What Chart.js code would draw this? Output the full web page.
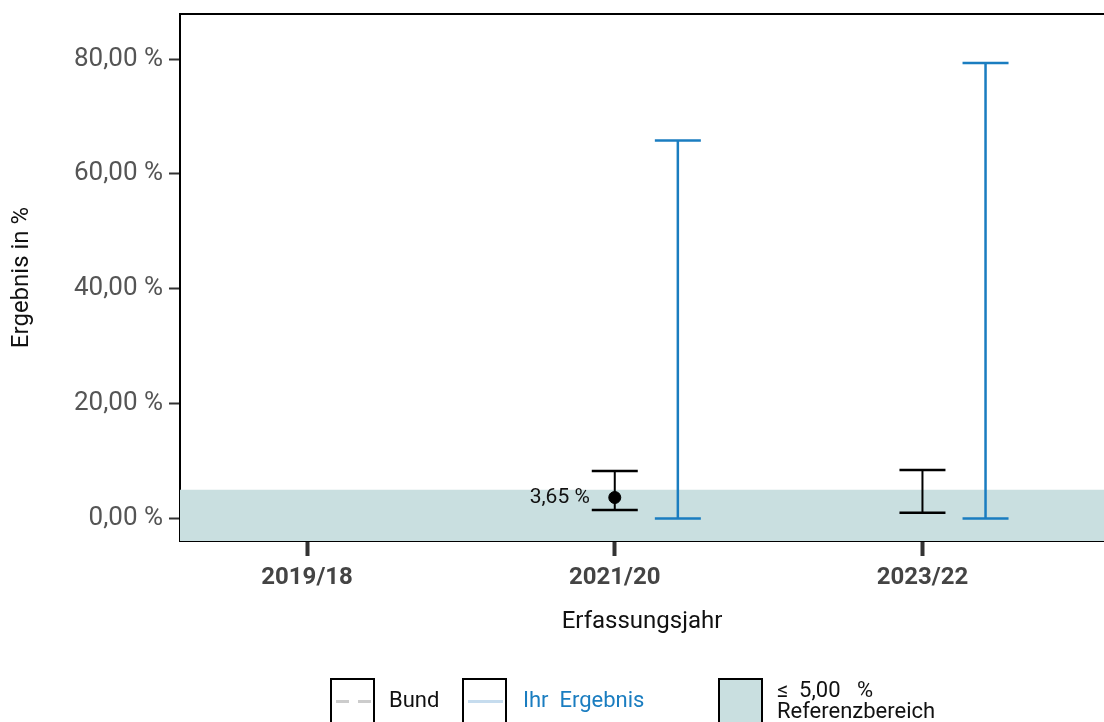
<!DOCTYPE html>
<html lang="de">
<head>
<meta charset="utf-8">
<title>Ergebnis in %</title>
<script src="https://cdn.jsdelivr.net/npm/chart.js@4"></script>
<style>
    body { margin: 0; background: #fff; font-family: Roboto, sans-serif; }
    #wrap { position: relative; width: 1104px; height: 722px; overflow: hidden; }
    .legend-box { position: absolute; top: 678px; width: 41px; height: 46px; border: 2px solid #000; box-sizing: content-box; }
    .legend-line { position: absolute; left: 4px; top: 20px; width: 35px; height: 3px; }
    .legend-text { position: absolute; font-size: 22px; color: #111; line-height: 21px; white-space: nowrap; }
</style>
</head>
<body>
<div id="wrap">
    <canvas id="chart" width="1104" height="722"></canvas>

    <!-- Legend -->
    <div class="legend-box" style="left:330px;">
        <div class="legend-line" style="background: repeating-linear-gradient(90deg, #cccccc 0 13px, transparent 13px 22px);"></div>
    </div>
    <div class="legend-text" style="left:389px; top:689px;">Bund</div>
    <div class="legend-box" style="left:462px;">
        <div class="legend-line" style="background:#c6dcee;"></div>
    </div>
    <div class="legend-text" style="left:523px; top:689px; color:#1a7dc0;">Ihr&nbsp; Ergebnis</div>
    <div class="legend-box" style="left:718px; background:#c9dfe0;"></div>
    <div class="legend-text" style="left:777px; top:679px;">≤&nbsp; 5,00&nbsp;&nbsp; %<br>Referenzbereich</div>
</div>

<script>
// Data
const years = ['2019/18', '2021/20', '2023/22'];
const bundWert = [null, 3.65, null];
const bundUnten = [null, 1.48, 1.0];
const bundOben = [null, 8.28, 8.45];
const ihrUnten = [null, 0, 0];
const ihrOben = [null, 65.8, 79.3];
const referenzGrenze = 5;
const yTicks = [0, 20, 40, 60, 80];

const X_MIN = -0.413, X_MAX = 2.59;
const Y_MIN = -3.92, Y_MAX = 87.84;
const IHR_OFFSET = 0.205;

const bundFarbe = '#000000';
const ihrFarbe = '#1a7dc0';
const refFarbe = '#c9dfe0';

// build error bar segments (gap between categories)
function errorBarPoints(lower, upper, offset) {
    const pts = [];
    years.forEach((y, i) => {
        if (lower[i] == null || upper[i] == null) return;
        pts.push({ x: i + offset, y: lower[i] });
        pts.push({ x: i + offset, y: upper[i] });
        pts.push({ x: i + offset + 0.01, y: null });
    });
    return pts;
}

function formatProzent(v) {
    return v.toFixed(2).replace('.', ',') + ' %';
}

// no extra padding around the axes, the plot box is fixed
function noPadding(scale) {
    scale.paddingLeft = 0;
    scale.paddingRight = 0;
    scale.paddingTop = 0;
    scale.paddingBottom = 0;
}

Chart.defaults.font.family = 'Roboto, sans-serif';

// Value label next to the Bund point
const wertLabel = {
    id: 'wertLabel',
    afterDatasetsDraw(chart) {
        const ctx = chart.ctx;
        const xs = chart.scales.x, ys = chart.scales.y;
        ctx.save();
        ctx.font = '21px Roboto, sans-serif';
        ctx.fillStyle = '#111';
        ctx.textAlign = 'right';
        ctx.textBaseline = 'middle';
        bundWert.forEach((v, i) => {
            if (v == null) return;
            ctx.fillText(formatProzent(v), xs.getPixelForValue(i) - 25, ys.getPixelForValue(v));
        });
        ctx.restore();
    }
};

const ctx = document.getElementById('chart').getContext('2d');
new Chart(ctx, {
    type: 'line',
    data: {
        datasets: [
            {
                label: 'Referenzbereich',
                data: [{ x: X_MIN, y: referenzGrenze }, { x: X_MAX, y: referenzGrenze }],
                borderWidth: 0,
                pointRadius: 0,
                backgroundColor: refFarbe,
                fill: 'start',
                order: 3
            },
            {
                label: 'Ihr Ergebnis',
                data: errorBarPoints(ihrUnten, ihrOben, IHR_OFFSET),
                borderColor: ihrFarbe,
                borderWidth: 2.5,
                pointStyle: 'line',
                pointRadius: 23,
                pointBorderColor: ihrFarbe,
                pointBorderWidth: 2.5,
                spanGaps: false,
                order: 2
            },
            {
                label: 'Bund',
                data: errorBarPoints(bundUnten, bundOben, 0),
                borderColor: bundFarbe,
                borderWidth: 2,
                pointStyle: 'line',
                pointRadius: 23,
                pointBorderColor: bundFarbe,
                pointBorderWidth: 2.5,
                spanGaps: false,
                order: 1
            },
            {
                label: 'Bund Wert',
                data: bundWert.map((v, i) => ({ x: i, y: v })),
                showLine: false,
                pointStyle: 'circle',
                pointRadius: 6,
                backgroundColor: bundFarbe,
                borderColor: bundFarbe,
                order: 0
            }
        ]
    },
    options: {
        responsive: false,
        animation: false,
        layout: { autoPadding: false, padding: { left: 0, right: 0, top: 0, bottom: 81 } },
        plugins: {
            legend: { display: false },
            tooltip: { enabled: false }
        },
        scales: {
            x: {
                type: 'linear',
                position: 'bottom',
                min: X_MIN,
                max: X_MAX,
                afterBuildTicks: scale => { scale.ticks = years.map((y, i) => ({ value: i })); },
                afterFit: scale => { scale.height = 100; noPadding(scale); },
                ticks: {
                    callback: v => years[v],
                    color: '#444',
                    font: { size: 24, weight: 'bold' },
                    padding: 8,
                    maxRotation: 0
                },
                grid: { drawOnChartArea: false, drawTicks: true, tickLength: 15, tickWidth: 4, tickColor: '#333' },
                border: { color: '#000', width: 2 },
                title: {
                    display: true,
                    text: 'Erfassungsjahr',
                    color: '#111',
                    font: { size: 24 },
                    padding: { top: 0, bottom: 5 }
                }
            },
            xTop: {
                type: 'linear',
                position: 'top',
                min: X_MIN,
                max: X_MAX,
                afterFit: scale => { scale.height = 14; noPadding(scale); },
                ticks: { display: false },
                grid: { drawOnChartArea: false, drawTicks: false },
                border: { color: '#000', width: 2 }
            },
            y: {
                type: 'linear',
                min: Y_MIN,
                max: Y_MAX,
                afterBuildTicks: scale => { scale.ticks = yTicks.map(v => ({ value: v })); },
                afterFit: scale => { scale.width = 180; noPadding(scale); },
                ticks: {
                    callback: v => formatProzent(v),
                    color: '#555',
                    font: { size: 26 },
                    padding: 6
                },
                grid: { drawOnChartArea: false, drawTicks: true, tickLength: 11, tickWidth: 2, tickColor: '#333' },
                border: { color: '#000', width: 2 },
                title: {
                    display: true,
                    text: 'Ergebnis in %',
                    color: '#111',
                    font: { size: 24 },
                    padding: { top: 8, bottom: 0 }
                }
            }
        }
    },
    plugins: [wertLabel]
});
</script>
</body>
</html>
